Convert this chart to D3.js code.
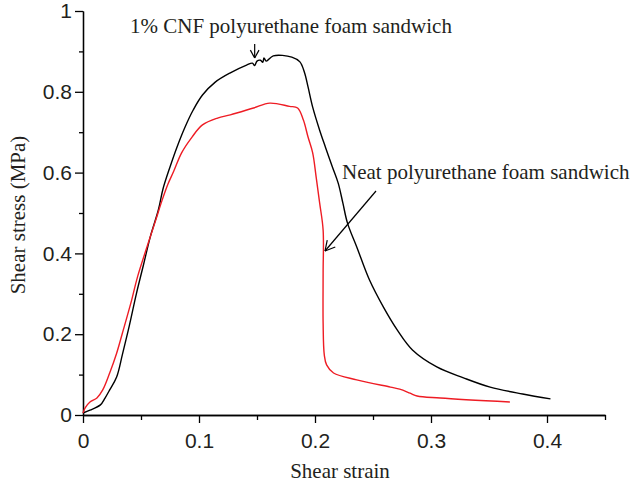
<!DOCTYPE html>
<html>
<head>
<meta charset="utf-8">
<title>Shear stress vs shear strain</title>
<script src="https://cdn.jsdelivr.net/npm/d3@7/dist/d3.min.js"></script>
<style>
body { margin: 0; background: #fff; }
svg { font-family: "Liberation Serif", "DejaVu Serif", serif; }
.axis text { font-size: 21px; fill: #231f20; }
.axis path, .axis line { stroke: #000; stroke-width: 1.3; }
</style>
</head>
<body>
<script>
  // data
  var strainCNF = [0, 0.006, 0.015, 0.019, 0.023, 0.029, 0.034, 0.040, 0.046, 0.052, 0.058, 0.065,
    0.069, 0.075, 0.081, 0.088, 0.095, 0.103, 0.114, 0.127, 0.141, 0.146, 0.148, 0.150, 0.153, 0.155,
    0.156, 0.158, 0.164, 0.180, 0.187, 0.191, 0.194, 0.198, 0.204, 0.209, 0.215, 0.220, 0.224, 0.228,
    0.236, 0.247, 0.259, 0.271, 0.284, 0.305, 0.328, 0.351, 0.379, 0.403];
  var stressCNF = [0.005, 0.012, 0.025, 0.042, 0.062, 0.094, 0.150, 0.222, 0.300, 0.370, 0.441, 0.508,
    0.560, 0.614, 0.663, 0.713, 0.755, 0.792, 0.824, 0.847, 0.866, 0.871, 0.865, 0.876, 0.878, 0.873,
    0.884, 0.876, 0.889, 0.886, 0.874, 0.847, 0.812, 0.762, 0.705, 0.663, 0.614, 0.574, 0.525, 0.475,
    0.416, 0.334, 0.267, 0.210, 0.161, 0.119, 0.092, 0.069, 0.052, 0.040];

  var strainNeat = [0, 0.002, 0.006, 0.012, 0.017, 0.023, 0.029, 0.034, 0.042, 0.047, 0.058, 0.063,
    0.068, 0.073, 0.078, 0.085, 0.094, 0.103, 0.116, 0.127, 0.147, 0.161, 0.178, 0.185, 0.190, 0.194,
    0.198, 0.201, 0.204, 0.207, 0.207, 0.207, 0.208, 0.210, 0.216, 0.236, 0.265, 0.273, 0.282, 0.288,
    0.308, 0.368];
  var stressNeat = [0.005, 0.018, 0.032, 0.042, 0.062, 0.104, 0.153, 0.203, 0.285, 0.342, 0.441, 0.485,
    0.530, 0.570, 0.602, 0.649, 0.688, 0.718, 0.735, 0.743, 0.760, 0.772, 0.764, 0.760, 0.730, 0.688,
    0.649, 0.589, 0.525, 0.458, 0.351, 0.228, 0.149, 0.124, 0.104, 0.087, 0.069, 0.064, 0.054, 0.047,
    0.042, 0.032];

  var xTicks = [0, 0.1, 0.2, 0.3, 0.4];
  var xMinor = [0.05, 0.15, 0.25, 0.35, 0.45];
  var yTicks = [0, 0.2, 0.4, 0.6, 0.8, 1];
  var yMinor = [0.1, 0.3, 0.5, 0.7, 0.9];

  var width = 635, height = 487;
  var margin = { left: 83, right: 30, top: 11, bottom: 72 };

  var svg = d3.select("body").append("svg").attr("width", width).attr("height", height);

  var x = d3.scaleLinear().domain([0, 0.45]).range([margin.left, width - margin.right]);
  var y = d3.scaleLinear().domain([0, 1]).range([height - margin.bottom, margin.top]);

  // axes
  svg.append("g").attr("class", "axis")
    .attr("transform", "translate(0," + y(0) + ")")
    .call(d3.axisBottom(x).tickValues(xMinor).tickSize(5).tickSizeOuter(0).tickFormat(""));
  svg.append("g").attr("class", "axis")
    .attr("transform", "translate(0," + y(0) + ")")
    .call(d3.axisBottom(x).tickValues(xTicks).tickSize(8).tickSizeOuter(0).tickPadding(10)
      .tickFormat(function(d) { return String(d); }));

  svg.append("g").attr("class", "axis")
    .attr("transform", "translate(" + x(0) + ",0)")
    .call(d3.axisLeft(y).tickValues(yMinor).tickSize(4).tickSizeOuter(0).tickFormat(""));
  svg.append("g").attr("class", "axis")
    .attr("transform", "translate(" + x(0) + ",0)")
    .call(d3.axisLeft(y).tickValues(yTicks).tickSize(8).tickSizeOuter(0).tickPadding(3)
      .tickFormat(function(d) { return String(d); }));

  svg.selectAll(".axis .domain").attr("stroke", "#000");

  // axis titles
  svg.append("text")
    .attr("x", 340).attr("y", 478)
    .attr("text-anchor", "middle").attr("font-size", 21).attr("fill", "#231f20")
    .text("Shear strain");
  svg.append("text")
    .attr("transform", "translate(25," + (y(0.5) + 2) + ") rotate(-90)")
    .attr("text-anchor", "middle").attr("font-size", 21).attr("fill", "#231f20")
    .text("Shear stress (MPa)");

  // curves
  var line = d3.line()
    .x(function(d) { return x(d[0]); })
    .y(function(d) { return y(d[1]); })
    .curve(d3.curveCatmullRom.alpha(0.5));

  svg.append("path")
    .datum(d3.zip(strainCNF, stressCNF))
    .attr("d", line).attr("fill", "none").attr("stroke", "#000").attr("stroke-width", 1.4);
  svg.append("path")
    .datum(d3.zip(strainNeat, stressNeat))
    .attr("d", line).attr("fill", "none").attr("stroke", "#ee1c24").attr("stroke-width", 1.4);

  // annotations
  svg.append("text")
    .attr("x", 130).attr("y", 33).attr("font-size", 21).attr("fill", "#231f20")
    .text("1% CNF polyurethane foam sandwich");
  svg.append("text")
    .attr("x", 342).attr("y", 179).attr("font-size", 21).attr("fill", "#231f20")
    .text("Neat polyurethane foam sandwich");

  function arrow(x1, y1, x2, y2, head) {
    var a = Math.atan2(y2 - y1, x2 - x1);
    var g = svg.append("g").attr("stroke", "#000").attr("stroke-width", 1.2).attr("fill", "none");
    g.append("line").attr("x1", x1).attr("y1", y1).attr("x2", x2).attr("y2", y2);
    [-0.5, 0.5].forEach(function(s) {
      g.append("line").attr("x1", x2).attr("y1", y2)
        .attr("x2", x2 - head * Math.cos(a + s)).attr("y2", y2 - head * Math.sin(a + s));
    });
  }
  arrow(x(0.148), 44, x(0.148), 58, 9);
  arrow(376, 191, 325, 251, 11);
</script>
</body>
</html>
